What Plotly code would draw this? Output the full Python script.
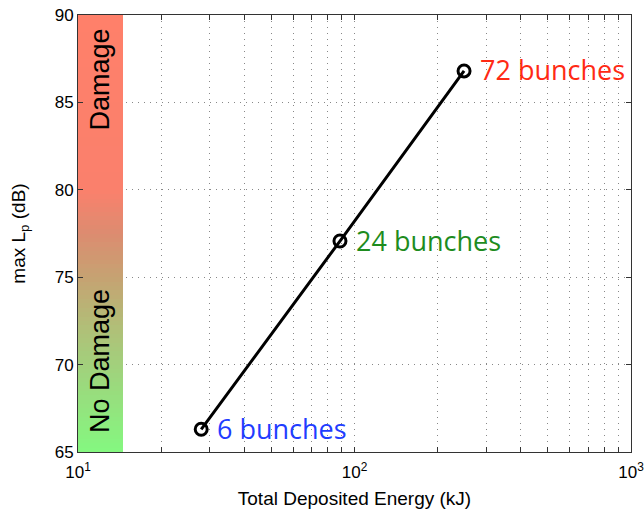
import math
import plotly.graph_objects as go

# data
energy_kj = [27.9, 88.6, 249.0]
max_lp_db = [66.3, 77.07, 86.8]
point_labels = ["6 bunches", "24 bunches", "72 bunches"]
label_colors = ["#1f3dff", "#1e8c1e", "#ff2a14"]

zone_x = [10, 14.5]
zone_y = [65, 90]
zone_names = ["Damage", "No Damage"]
zone_text_y = [86.3, 70.2]
zone_text_x = 12.0

x_tick_vals = [10, 20, 30, 40, 50, 60, 70, 80, 90,
               100, 200, 300, 400, 500, 600, 700, 800, 900, 1000]
x_tick_text = ["10<sup>1</sup>"] + [""] * 8 + ["10<sup>2</sup>"] + [""] * 8 + ["10<sup>3</sup>"]
y_tick_vals = [65, 70, 75, 80, 85, 90]

fig = go.Figure()

# gradient zone (decorative background band)
n_rows = 100
band_edges = [zone_y[0] + (zone_y[1] - zone_y[0]) * i / n_rows for i in range(n_rows + 1)]
band_z = [[(band_edges[i] + band_edges[i + 1]) / 2] for i in range(n_rows)]
fig.add_trace(go.Heatmap(
    x=zone_x, y=band_edges, z=band_z, zmin=zone_y[0], zmax=zone_y[1],
    colorscale=[[0.0, "#84f880"], [0.2, "#a2d07c"], [0.28, "#b0c078"],
                [0.4, "#c6a272"], [0.5, "#dc8c70"], [0.6, "#fa806c"],
                [1.0, "#ff806a"]],
    showscale=False, hoverinfo="skip"))

fig.add_trace(go.Scatter(
    x=energy_kj, y=max_lp_db, mode="lines+markers",
    line=dict(color="black", width=3),
    marker=dict(symbol="circle-open", size=12, color="black", line=dict(width=3)),
    showlegend=False))

for xv, yv, t, c in zip(energy_kj, max_lp_db, point_labels, label_colors):
    fig.add_annotation(x=math.log10(xv), y=yv, xref="x", yref="y", text=t, showarrow=False,
                       xanchor="left", yanchor="middle", xshift=14, yshift=1,
                       font=dict(family="Open Sans", size=27, color=c))

for name, yv in zip(zone_names, zone_text_y):
    fig.add_annotation(x=math.log10(zone_text_x), y=yv, xref="x", yref="y", text=name,
                       showarrow=False, textangle=-90,
                       font=dict(family="Liberation Sans, Arial", size=27, color="black"))

axis_common = dict(showline=True, linecolor="#333", linewidth=1, mirror="allticks",
                   ticks="inside", ticklen=5, tickcolor="#333",
                   showgrid=True, gridcolor="#888", griddash="1px,5px", gridwidth=1,
                   zeroline=False, automargin=False, ticklabeloverflow="allow",
                   tickfont=dict(family="Liberation Sans, Arial", size=17, color="black"))

fig.update_xaxes(type="log", range=[1, 3], tickmode="array",
                 tickvals=x_tick_vals, ticktext=x_tick_text, ticklabelstandoff=5,
                 title=dict(text="Total Deposited Energy (kJ)", standoff=10,
                            font=dict(family="Liberation Sans, Arial", size=19, color="black")),
                 **axis_common)
fig.update_yaxes(range=[65, 90], tickmode="array", tickvals=y_tick_vals,
                 title=dict(text="max L<sub>p</sub> (dB)", standoff=24,
                            font=dict(family="Liberation Sans, Arial", size=19, color="black")),
                 **axis_common)

fig.update_layout(width=644, height=515,
                  margin=dict(l=78, r=13, t=15, b=63),
                  paper_bgcolor="white", plot_bgcolor="white")

fig.write_html("out.html", config={"displayModeBar": False},
               post_script="document.body.style.margin='0';")
